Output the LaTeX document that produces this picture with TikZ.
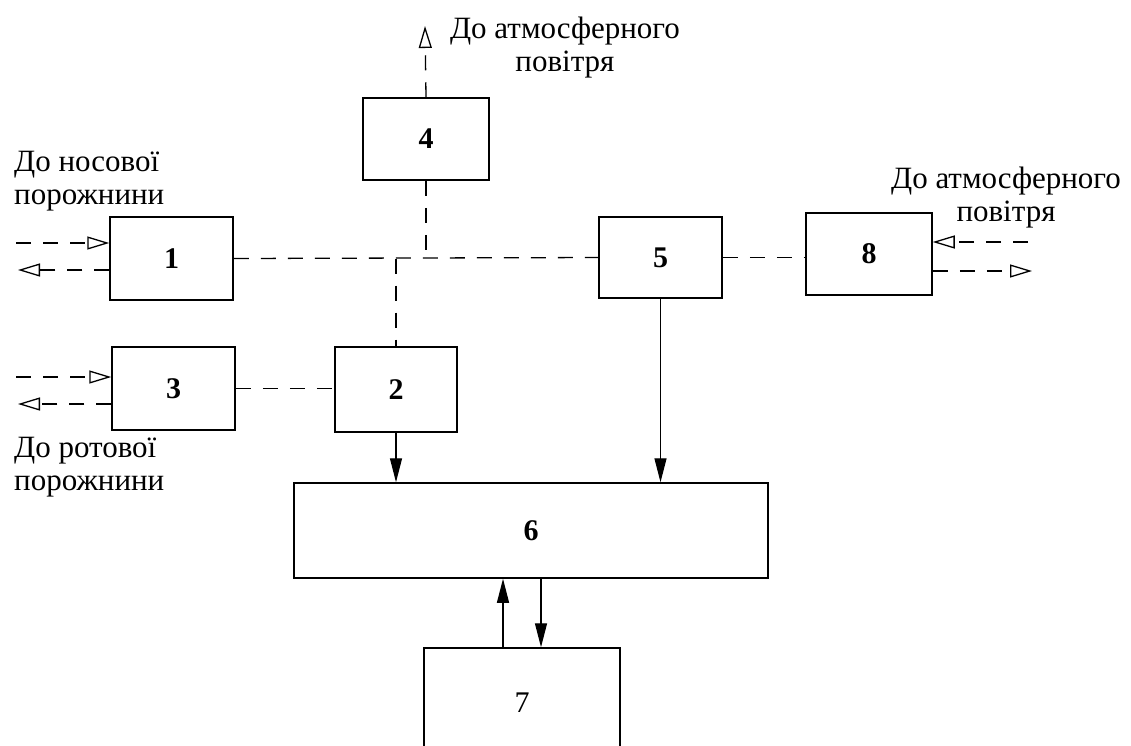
\documentclass[tikz,border=0pt]{standalone}
\usepackage{fontspec}
\setmainfont{Liberation Serif}
\usetikzlibrary{arrows.meta}
\begin{document}
\begin{tikzpicture}[x=1pt,y=-1pt,
  box/.style={draw,line width=1.5pt,inner sep=0pt,font=\fontsize{30}{30}\selectfont\bfseries},
  lbl/.style={font=\fontsize{31}{33}\selectfont,align=left,inner sep=0pt},
  dsh/.style={line width=1.3pt,dash pattern=on 15pt off 12pt},
  oarr/.style={dsh,-{Triangle[open,length=22pt,width=13pt,line width=1.3pt]}},
  sarr/.style={line width=1.3pt,-{Triangle[length=24pt,width=12pt]}}]
\useasboundingbox (0,0) rectangle (1131,745);
\fill[white] (0,0) rectangle (1131,745);
% boxes
\node[box,minimum width=126pt,minimum height=82pt] (b4) at (426,139) {4};
\node[box,minimum width=123pt,minimum height=83pt] (b1) at (171.5,258.5) {1};
\node[box,minimum width=123pt,minimum height=81pt] (b5) at (660.5,257.5) {5};
\node[box,minimum width=126pt,minimum height=82pt] (b8) at (869,254) {8};
\node[box,minimum width=123pt,minimum height=83pt] (b3) at (173.5,388.5) {3};
\node[box,minimum width=122pt,minimum height=85pt] (b2) at (396,389.5) {2};
\node[box,minimum width=474pt,minimum height=95pt] (b6) at (531,530.5) {6};
\node[box,minimum width=196pt,minimum height=110pt,font=\fontsize{30}{30}\selectfont] (b7) at (522,703) {7};
% texts
\node[lbl,anchor=north west] (t1) at (14,151) {До носової\\порожнини};
\node[lbl,anchor=north west] (t3) at (14,437) {До ротової\\порожнини};
\node[lbl,anchor=north,align=center] (t4) at (565,17) {До атмосферного\\повітря};
\node[lbl,anchor=north,align=center] (t8) at (1006,167) {До атмосферного\\повітря};
% junctions
\coordinate (j2) at (b2.north |- b1.east);
\coordinate (j4) at (b4.south |- b1.east);
\coordinate (top) at (425,26);
% dashed links
\draw[dsh] (b1.east) -- (b5.west);
\draw[dsh] (j2) -- (b2.north);
\draw[dsh] (b4.south) -- (j4);
\draw[dsh] (b5.east) -- (b8.west |- b5.east);
\draw[dsh] (b3.east) -- (b2.west |- b3.east);
\draw[oarr] (b4.north) -- (top);
% side arrows
\coordinate (l1a) at (16,243);
\coordinate (l1b) at (18,270);
\coordinate (l3a) at (16,377);
\coordinate (l3b) at (18,404);
\coordinate (r8a) at (1028,242);
\coordinate (r8b) at (1032,271);
\draw[oarr] (l1a) -- (b1.west |- l1a);
\draw[oarr] (b1.west |- l1b) -- (l1b);
\draw[oarr] (l3a) -- (b3.west |- l3a);
\draw[oarr] (b3.west |- l3b) -- (l3b);
\draw[oarr] (r8a) -- (b8.east |- r8a);
\draw[oarr] (b8.east |- r8b) -- (r8b);
% solid arrows
\draw[sarr] (b2.south) -- (b2.south |- b6.north);
\draw[sarr] (b5.south) -- (b5.south |- b6.north);
\coordinate (u7) at (503,0);
\coordinate (d7) at (541,0);
\draw[sarr] (u7 |- b7.north) -- (u7 |- b6.south);
\draw[sarr] (d7 |- b6.south) -- (d7 |- b7.north);
\end{tikzpicture}
\end{document}
